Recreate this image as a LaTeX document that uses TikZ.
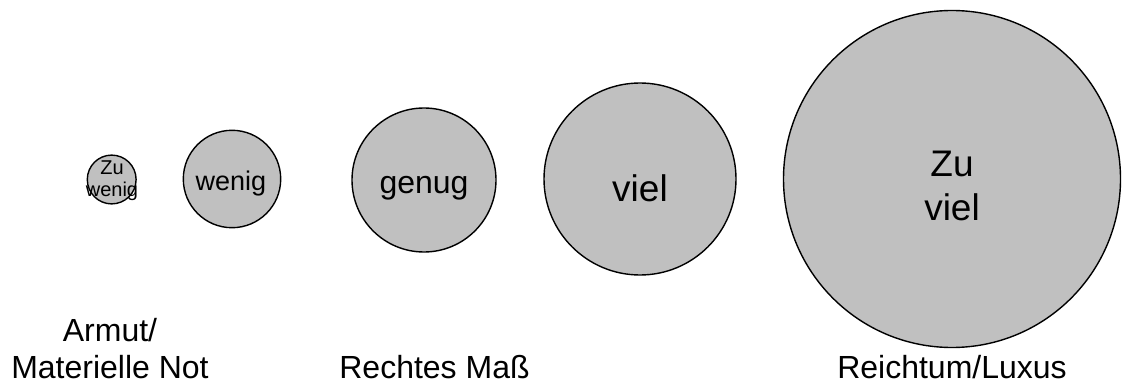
\documentclass[tikz,border=0pt]{standalone}
\usepackage{fontspec}
\setmainfont{Liberation Sans}
\definecolor{bubfill}{RGB}{192,192,192}
\begin{document}
\begin{tikzpicture}[x=1pt,y=-1pt,
  bub/.style={circle,draw=black,line width=1.4pt,fill=bubfill,inner sep=0pt},
  txt/.style={anchor=base,inner sep=0pt,text=black},
  fA/.style={font=\fontsize{20}{23}\selectfont},
  fB/.style={font=\fontsize{27}{31}\selectfont},
  fC/.style={font=\fontsize{32}{37}\selectfont},
  fD/.style={font=\fontsize{37}{43}\selectfont}]
\useasboundingbox (0,0) rectangle (1130,385);
\node[bub,minimum size=48.8pt] (c1) at (111.7,179.5) {};
\node[bub,minimum size=97.4pt] (c2) at (232,179) {};
\node[bub,minimum size=144pt] (c3) at (424,180) {};
\node[bub,minimum size=192pt] (c4) at (640,179) {};
\node[bub,minimum size=337pt] (c5) at (952,179) {};
% circle texts
\node[txt,fA] (t1a) at (112,175) {Zu};
\node[txt,fA] (t1b) at (112,196.7) {wenig};
\node[txt,fB] (t2) at (231,190) {wenig};
\node[txt,fC] (t3) at (424,193.3) {genug};
\node[txt,fD] (t4) at (640,201) {viel};
\node[txt,fD] (t5a) at (952,176.7) {Zu};
\node[txt,fD] (t5b) at (952,220) {viel};
% bottom labels
\node[txt,fC] (l1a) at (110,341.7) {Armut/};
\node[txt,fC] (l1b) at (110,378.3) {Materielle Not};
\node[txt,fC] (l2) at (434.5,378) {Rechtes Maß};
\node[txt,fC] (l3) at (952,378) {Reichtum/Luxus};
\end{tikzpicture}
\end{document}
